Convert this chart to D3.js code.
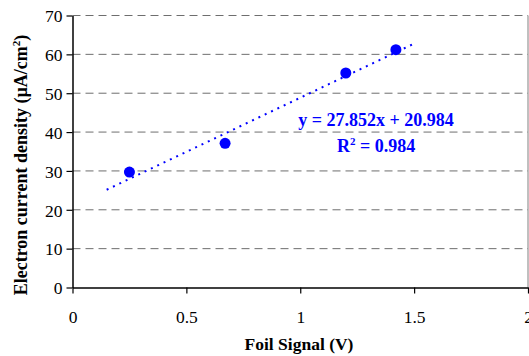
<!DOCTYPE html>
<html>
<head>
<meta charset="utf-8">
<script src="https://cdn.jsdelivr.net/npm/d3@7"></script>
<style>
  body { margin: 0; background: #fff; }
</style>
</head>
<body>
<div id="chart"></div>
<script>
// data
var foilSignal = [0.25, 0.67, 1.20, 1.42];
var currentDensity = [29.7, 37.1, 55.2, 61.2];
var trendRange = [0.15, 1.5];
var slope = 27.852, intercept = 20.984, rSquared = 0.984;
var xTicks = [0, 0.5, 1, 1.5, 2];
var yTicks = [0, 10, 20, 30, 40, 50, 60, 70];

var serif = "'Liberation Serif', 'Times New Roman', serif";
var width = 529, height = 356;
var margin = {top: 15.5, right: 1, bottom: 68.5, left: 72.5};
var width_g = width - margin.left - margin.right,
    height_g = height - margin.top - margin.bottom;

var x = d3.scaleLinear().domain([0, 2]).range([0, width_g]);
var y = d3.scaleLinear().domain([0, 70]).range([height_g, 0]);

var svg = d3.select("#chart").append("svg")
    .attr("width", width)
    .attr("height", height);

var frg = svg.append("g")
    .attr("transform", "translate(" + margin.left + "," + margin.top + ")");

// dashed gridlines
frg.append("g").attr("class", "grid")
    .selectAll("line")
    .data(yTicks.filter(function(d) { return d > 0; }))
    .enter().append("line")
    .attr("x1", 0).attr("x2", width_g)
    .attr("y1", function(d) { return y(d); })
    .attr("y2", function(d) { return y(d); })
    .attr("stroke", "#6e6e6e")
    .attr("stroke-width", 1)
    .attr("stroke-dasharray", "8,5");

// right border
frg.append("line")
    .attr("x1", width_g).attr("x2", width_g)
    .attr("y1", 0).attr("y2", height_g)
    .attr("stroke", "#808080")
    .attr("stroke-width", 1);

var xAxis = d3.axisBottom(x).tickValues(xTicks)
    .tickFormat(function(d) { return d; })
    .tickSizeInner(6).tickSizeOuter(0).tickPadding(17);
var yAxis = d3.axisLeft(y).tickValues(yTicks)
    .tickSizeInner(6).tickSizeOuter(0).tickPadding(4);

var gx = frg.append("g")
    .attr("transform", "translate(0," + height_g + ")")
    .call(xAxis);
var gy = frg.append("g").call(yAxis);

[gx, gy].forEach(function(g) {
  g.select(".domain").attr("stroke", "#000").attr("stroke-width", 1.5);
  g.selectAll(".tick line").attr("stroke", "#000").attr("stroke-width", 1.2);
  g.selectAll(".tick text")
    .style("font-family", serif)
    .style("font-size", "17.5px")
    .attr("fill", "#000");
});
gy.selectAll(".tick text").attr("dy", "0.36em");

// trend line
var line = d3.line()
    .x(function(d) { return x(d); })
    .y(function(d) { return y(slope * d + intercept); });
frg.append("path")
    .datum(trendRange)
    .attr("d", line)
    .attr("fill", "none")
    .attr("stroke", "#0000ff")
    .attr("stroke-width", 2)
    .attr("stroke-dasharray", "2,5");

// points
frg.append("g").selectAll("circle")
    .data(foilSignal)
    .enter().append("circle")
    .attr("cx", function(d) { return x(d); })
    .attr("cy", function(d, i) { return y(currentDensity[i]); })
    .attr("r", 5.5)
    .attr("fill", "#0000ff");

// equation label
var eq = frg.append("g")
    .attr("fill", "#0000ff")
    .style("font-family", serif)
    .style("font-weight", "bold")
    .style("font-size", "18px")
    .attr("text-anchor", "middle");
eq.append("text")
    .attr("x", x(1.333))
    .attr("y", y(41.6))
    .text("y = " + slope + "x + " + intercept);
var r2 = eq.append("text")
    .attr("x", x(1.333))
    .attr("y", y(34.9));
r2.append("tspan").text("R");
r2.append("tspan").style("font-size", "11px").attr("dy", -7).text("2");
r2.append("tspan").attr("dy", 7).text(" = " + rSquared);

// axis titles
svg.append("text")
    .attr("x", 299)
    .attr("y", 350)
    .attr("text-anchor", "middle")
    .style("font-family", serif)
    .style("font-weight", "bold")
    .style("font-size", "17.5px")
    .text("Foil Signal (V)");

var yt = svg.append("text")
    .attr("transform", "translate(27,165) rotate(-90)")
    .attr("text-anchor", "middle")
    .style("font-family", serif)
    .style("font-weight", "bold")
    .style("font-size", "18px");
yt.append("tspan").text("Electron current density (\u00b5A/cm");
yt.append("tspan").style("font-size", "11px").attr("dy", -7).text("2");
yt.append("tspan").attr("dy", 7).text(")");
</script>
</body>
</html>
